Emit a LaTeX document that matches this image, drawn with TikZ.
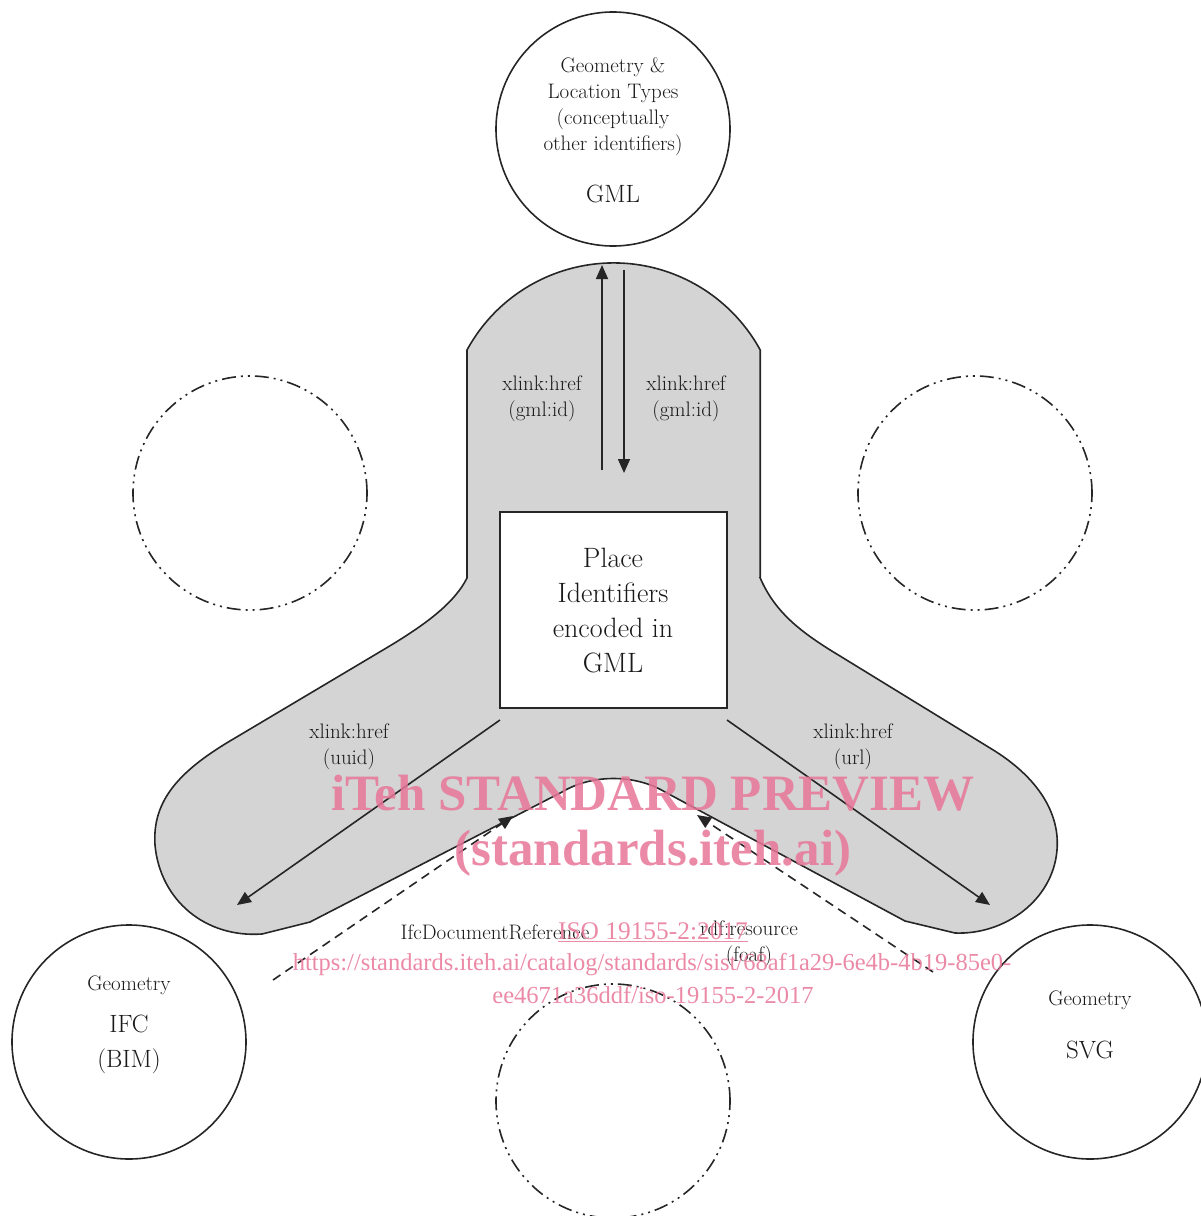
\documentclass[tikz,border=0pt]{standalone}
\usepackage{fontspec}
\usetikzlibrary{arrows.meta}
\newfontfamily\wmfont{Liberation Serif}
\definecolor{wmpink}{RGB}{232,118,152}
\tikzset{
	outline/.style={line width=1.6pt, draw=black!85},
	refcircle/.style={circle, draw=black!85, line width=1.6pt, minimum size=234pt, inner sep=0pt},
	emptycircle/.style={refcircle, dash pattern=on 14pt off 5pt on 2pt off 5pt on 2pt off 5pt},
	link/.style={line width=1.6pt, draw=black!85, -{Triangle[length=14pt,width=12pt]}},
	dashlink/.style={link, dash pattern=on 9pt off 6pt},
	smalltext/.style={font=\fontsize{21}{26}\selectfont, align=center, inner sep=0pt, text=black!90},
	bigtext/.style={font=\fontsize{25}{35}\selectfont, align=center, inner sep=0pt, text=black!90},
	wmtext/.style={font=\wmfont\fontsize{24.5}{30}\selectfont, text=wmpink, text opacity=0.85, inner sep=0pt},
	wmbold/.style={font=\wmfont\bfseries\fontsize{51}{60}\selectfont, text=wmpink, text opacity=0.85, inner sep=0pt}
}

\begin{document}
\begin{tikzpicture}[x=1pt, y=-1pt]
			%%%%% START %%%%%
			\useasboundingbox (0, 0) rectangle (1200, 1216);
			
			% grey carrier shape
			\draw[outline, fill=black!17]
				(467, 350) arc[start angle=151.4, end angle=28.6, radius=167pt]
				|- (760.2, 578)
				.. controls (775, 612) and (800, 632) .. (840, 656)
				-- (990, 748)
				.. controls (1040, 778) and (1060, 815) .. (1057, 850)
				.. controls (1053, 900) and (1005, 935) .. (955, 933)
				-- (905, 921)
				-- (665, 792)
				.. controls (635, 774) and (592, 774) .. (562, 792)
				-- (310, 922)
				-- (262, 934)
				.. controls (205, 938) and (160, 900) .. (155, 845)
				.. controls (152, 800) and (180, 770) .. (235, 738)
				-- (388, 647)
				.. controls (428, 623) and (455, 602) .. (467, 578)
				-- cycle;
			
			\node[draw=black!85, line width=1.6pt, fill=white, minimum width=227pt, minimum height=196pt] (place) at (613.5, 610) {};
			\node[font=\fontsize{28}{35}\selectfont, align=center, inner sep=0pt, text=black!90] (placetext) at (613, 610) {Place\\Identifiers\\encoded in\\GML};
			
			% circles
			\node[refcircle] (gml) at (613, 129) {};
			\node[smalltext] (gmltext) at (613, 107) {Geometry \&\\Location Types\\(conceptually\\other identifiers)};
			\node[bigtext] (gmlname) at (613, 194) {GML};
			
			\node[refcircle] (ifc) at (129, 1042) {};
			\node[smalltext] (ifctext) at (129, 985) {Geometry};
			\node[bigtext] (ifcname) at (129, 1044) {IFC\\(BIM)};
			
			\node[refcircle] (svg) at (1090, 1042) {};
			\node[smalltext] (svgtext) at (1090, 1000) {Geometry};
			\node[bigtext] (svgname) at (1090, 1050) {SVG};
			
			\node[emptycircle] (blankleft) at (250, 493) {};
			\node[emptycircle] (blankright) at (975, 493) {};
			\node[emptycircle] (blankbottom) at (613, 1101) {};
			
			% links
			\coordinate (upS) at (602, 470);
			\coordinate (upE) at (602, 265);
			\coordinate (downS) at (624, 270);
			\coordinate (downE) at (624, 473);
			\coordinate (uuidS) at (500, 720);
			\coordinate (uuidE) at (237, 905);
			\coordinate (urlS) at (727, 720);
			\coordinate (urlE) at (990, 905);
			\coordinate (ifcS) at (273, 980);
			\coordinate (ifcE) at (513, 816);
			\coordinate (foafS) at (933, 972);
			\coordinate (foafE) at (697, 815);
			
			\draw[link] (upS) -- (upE);
			\draw[link] (downS) -- (downE);
			\draw[link] (uuidS) -- (uuidE);
			\draw[link] (urlS) -- (urlE);
			\draw[dashlink] (ifcS) -- (ifcE);
			\draw[dashlink] (foafS) -- (foafE);
			
			\node[smalltext] (uplabel) at (542, 399) {xlink:href\\(gml:id)};
			\node[smalltext] (downlabel) at (686, 399) {xlink:href\\(gml:id)};
			\node[smalltext] (uuidlabel) at (349, 747) {xlink:href\\(uuid)};
			\node[smalltext] (urllabel) at (853, 747) {xlink:href\\(url)};
			\node[smalltext] (ifclabel) at (495, 932) {IfcDocumentReference};
			\node[smalltext] (foaflabel) at (749, 944) {rdf:resource\\(foaf)};
			
			% watermark
			\node[wmbold] (wm1) at (653, 793) {iTeh STANDARD PREVIEW};
			\node[wmbold] (wm2) at (653, 853) {(standards.iteh.ai)};
			\node[wmtext, font=\wmfont\fontsize{25.4}{30}\selectfont] (wm3) at (653, 932) {\underline{ISO 19155-2:2017}};
			\node[wmtext] (wm4) at (652, 965) {https://standards.iteh.ai/catalog/standards/sist/68af1a29-6e4b-4b19-85e0-};
			\node[wmtext] (wm5) at (653, 995) {ee4671a36ddf/iso-19155-2-2017};
			
			%%%%% END %%%%%
\end{tikzpicture}
\end{document}
